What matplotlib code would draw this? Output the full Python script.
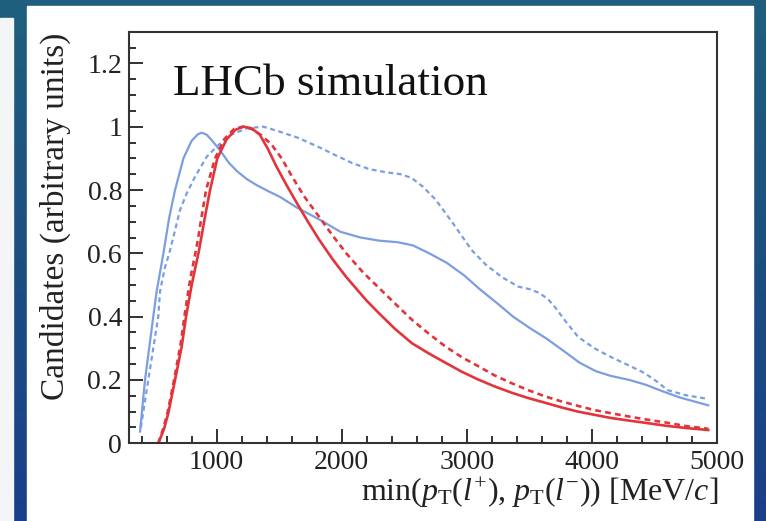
import numpy as np
import matplotlib
matplotlib.use("Agg")
import matplotlib.pyplot as plt
from matplotlib.patches import Rectangle
from matplotlib.colors import LinearSegmentedColormap

# values (x in MeV/c, y in arbitrary units)
blue_solid_x = [388, 428, 494, 521, 575, 620, 668, 735, 800, 850, 882, 920, 960, 1028, 1100, 1162, 1240,
                1322, 1420, 1508, 1640, 1830, 1990, 2150, 2300, 2450, 2570, 2700, 2840, 2980, 3100,
                3250, 3370, 3500, 3640, 3780, 3900, 4030, 4150, 4300, 4430, 4560, 4700, 4930]
blue_solid_y = [0.037, 0.20, 0.40, 0.48, 0.60, 0.71, 0.80, 0.90, 0.955, 0.976, 0.981, 0.975, 0.958,
                0.925, 0.885, 0.86, 0.835, 0.815, 0.795, 0.778, 0.745, 0.705, 0.668, 0.65, 0.64,
                0.635, 0.625, 0.60, 0.57, 0.53, 0.488, 0.44, 0.40, 0.365, 0.33, 0.29, 0.255, 0.228,
                0.213, 0.20, 0.185, 0.165, 0.145, 0.12]

blue_dash_x = [395, 454, 534, 548, 588, 622, 668, 708, 761, 828, 921, 1001, 1107, 1241, 1374, 1507,
               1650, 1820, 1950, 2085, 2220, 2355, 2470, 2560, 2650, 2750, 2880, 2960, 3040, 3150,
               3280, 3410, 3500, 3580, 3650, 3705, 3800, 3890, 4020, 4150, 4300, 4420, 4520, 4605,
               4750, 4930]
blue_dash_y = [0.05, 0.20, 0.40, 0.48, 0.557, 0.60, 0.673, 0.737, 0.789, 0.842, 0.905, 0.937, 0.973,
               0.995, 1.0, 0.984, 0.965, 0.935, 0.91, 0.885, 0.866, 0.856, 0.85, 0.838, 0.81, 0.77,
               0.70, 0.655, 0.61, 0.565, 0.525, 0.495, 0.487, 0.475, 0.455, 0.43, 0.38, 0.336, 0.30,
               0.273, 0.245, 0.222, 0.195, 0.168, 0.152, 0.14]

red_solid_x = [534, 580, 614, 668, 721, 756, 801, 860, 905, 948, 1006, 1080, 1150, 1214, 1280, 1345,
               1410, 1480, 1560, 1640, 1730, 1820, 1930, 2037, 2196, 2300, 2430, 2562, 2700, 2832,
               2960, 3094, 3220, 3357, 3490, 3627, 3760, 3890, 4020, 4152, 4290, 4422, 4600, 4760, 4930]
red_solid_y = [0.0, 0.045, 0.095, 0.20, 0.305, 0.40, 0.50, 0.61, 0.71, 0.80, 0.90, 0.96, 0.99, 1.0,
               0.995, 0.975, 0.93, 0.873, 0.815, 0.76, 0.70, 0.643, 0.58, 0.525, 0.452, 0.41, 0.36,
               0.316, 0.283, 0.254, 0.226, 0.201, 0.18, 0.16, 0.143, 0.128, 0.113, 0.10, 0.09, 0.08,
               0.072, 0.065, 0.055, 0.048, 0.042]

red_dash_x = [534, 575, 610, 665, 715, 750, 790, 845, 880, 916, 988, 1060, 1140, 1210, 1280, 1350, 1437,
              1520, 1607, 1700, 1820, 1930, 2037, 2170, 2300, 2430, 2562, 2700, 2832, 2960, 3094,
              3220, 3357, 3490, 3627, 3760, 3890, 4020, 4152, 4290, 4422, 4600, 4760, 4930]
red_dash_y = [0.0, 0.048, 0.10, 0.21, 0.32, 0.42, 0.52, 0.63, 0.715, 0.80, 0.90, 0.96, 0.993, 1.0,
              0.993, 0.975, 0.945, 0.90, 0.84, 0.78, 0.715, 0.655, 0.60, 0.54, 0.49, 0.44, 0.39,
              0.345, 0.305, 0.272, 0.243, 0.215, 0.19, 0.168, 0.148, 0.132, 0.118, 0.105, 0.095,
              0.085, 0.076, 0.065, 0.054, 0.046]

x_ticks = [1000, 2000, 3000, 4000, 5000]
y_ticks = [0, 0.2, 0.4, 0.6, 0.8, 1.0, 1.2]
y_tick_labels = ["0", "0.2", "0.4", "0.6", "0.8", "1", "1.2"]

BLUE = "#7c9ee0"
RED = "#e2353b"
SERIF = "Liberation Serif"

plt.rcParams["font.family"] = SERIF
plt.rcParams["mathtext.fontset"] = "custom"
plt.rcParams["mathtext.rm"] = SERIF
plt.rcParams["mathtext.it"] = SERIF + ":italic"

fig = plt.figure(figsize=(7.66, 5.21), dpi=100)

# slide background: blue gradient with a white panel
bg = fig.add_axes([0, 0, 1, 1], zorder=-10)
bg.set_axis_off()
cmap = LinearSegmentedColormap.from_list("slide", ["#1f5f7d", "#1c4f80", "#1a3f8a"])
bg.imshow(np.linspace(0, 1, 100).reshape(-1, 1), aspect="auto", cmap=cmap,
          extent=[0, 1, 0, 1], origin="upper")
bg.set_xlim(0, 1)
bg.set_ylim(0, 1)
bg.add_patch(Rectangle((27 / 766, 0), (753 - 27) / 766, (521 - 6) / 521, color="white"))
bg.add_patch(Rectangle((0, 0), 12.7 / 766, (521 - 18) / 521, color="#f3f5f7"))

ax = fig.add_axes([129 / 766, (521 - 443.3) / 521, (717 - 129) / 766, (443.3 - 31.7) / 521])
ax.set_facecolor("white")

dash = (0, (2.2, 1.6))
ax.plot(blue_dash_x, blue_dash_y, color=BLUE, lw=1.6, linestyle=dash)
ax.plot(blue_solid_x, blue_solid_y, color=BLUE, lw=1.6)
ax.plot(red_dash_x, red_dash_y, color=RED, lw=1.9, linestyle=dash)
ax.plot(red_solid_x, red_solid_y, color=RED, lw=1.9)

ax.set_xlim(300, 5000)
ax.set_ylim(0, 1.3)
ax.set_xticks(x_ticks)
ax.set_xticks(np.arange(400, 5000, 200), minor=True)
ax.set_yticks(y_ticks)
ax.set_yticklabels(y_tick_labels)
ax.set_yticks(np.arange(0.05, 1.3, 0.05), minor=True)
ax.tick_params(which="both", direction="in", top=False, right=False, colors="#222222",
               labelsize=20, width=1.3)
ax.tick_params(which="major", length=10)
ax.tick_params(which="minor", length=5)
ax.tick_params(axis="x", pad=5)
ax.tick_params(axis="y", pad=5)
for s in ax.spines.values():
    s.set_linewidth(1.5)
    s.set_color("#333333")

ax.text(0.075, 0.845, "LHCb simulation", transform=ax.transAxes, fontsize=32.5,
        va="baseline", ha="left", color="#111111")

fig.text(55 / 766, 1 - 33 / 521, "Candidates (arbitrary units)", rotation=90,
         ha="center", va="top", fontsize=24, color="#222222")
fig.text(718 / 766, (521 - 501) / 521,
         r"min($p_{\mathrm{T}}$($l^{+}$), $p_{\mathrm{T}}$($l^{-}$)) [MeV/$c$]",
         ha="right", va="baseline", fontsize=23, color="#222222")

fig.savefig("out.png", dpi=100)
